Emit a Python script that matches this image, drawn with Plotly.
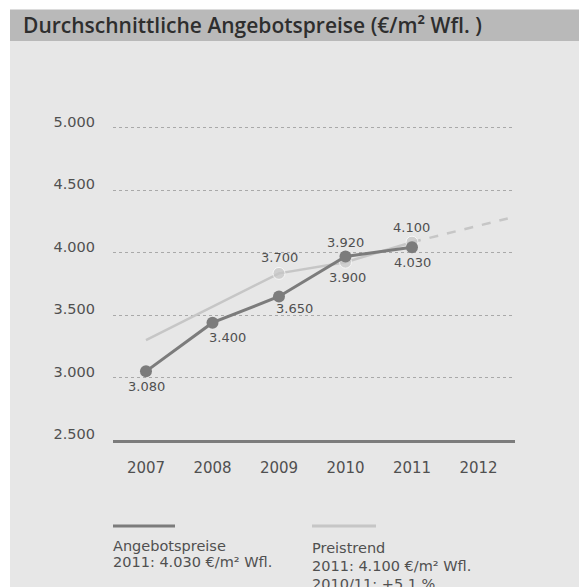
import plotly.graph_objects as go

# ---- data ----
years = [2007, 2008, 2009, 2010, 2011]
angebot_vals = [3050, 3440, 3650, 3970, 4045]
angebot_labels = ["3.080", "3.400", "3.650", "3.920", "4.030"]

trend_years = [2007, 2009, 2010, 2011]
trend_vals = [3300, 3835, 3925, 4085]
trend_labels = ["", "3.700", "3.900", "4.100"]

proj_years = [2011, 2012.44]
proj_vals = [4085, 4275]

tick_years = [2007, 2008, 2009, 2010, 2011, 2012]
ytick_vals = [2500, 3000, 3500, 4000, 4500, 5000]
ytick_text = ["2.500", "3.000", "3.500", "4.000", "4.500", "5.000"]

title_text = "Durchschnittliche Angebotspreise (€/m² Wfl. )"
legend1_lines = ["Angebotspreise", "2011: 4.030 €/m² Wfl."]
legend2_lines = ["Preistrend", "2011: 4.100 €/m² Wfl.", "2010/11: +5,1 %"]

# ---- style ----
DARK = "#7c7c7c"
LIGHT = "#c6c6c6"
TEXT = "#505050"
FONT = "DejaVu Sans"

# label offsets (px) relative to their points
angebot_shift = [(1, -15), (15, -15), (16, -12), (0, 14), (1, -15)]
trend_shift = [(0, 0), (1, 16), (2, -15), (0, 15)]

fig = go.Figure()
fig.add_trace(go.Scatter(x=proj_years, y=proj_vals, mode="lines",
                         line=dict(color=LIGHT, width=2.5, dash="dash"),
                         hoverinfo="skip", showlegend=False))
fig.add_trace(go.Scatter(x=trend_years, y=trend_vals, mode="lines+markers",
                         line=dict(color=LIGHT, width=2.5),
                         marker=dict(size=[0, 12, 12, 12], color=LIGHT),
                         name="Preistrend", showlegend=False))
fig.add_trace(go.Scatter(x=years, y=angebot_vals, mode="lines+markers",
                         line=dict(color=DARK, width=3),
                         marker=dict(size=12, color=DARK),
                         name="Angebotspreise", showlegend=False))

# page pixel -> paper coords (page has 8px body offset; plot area x 113..515, y 123..440)
PL, PR, PT, PB = 113, 515, 123, 440
def px_x(p):
    return (p - PL) / (PR - PL)

def px_y(p):
    return (PB - p) / (PB - PT)

annotations = []
for x, y, t, (dx, dy) in zip(years, angebot_vals, angebot_labels, angebot_shift):
    annotations.append(dict(x=x, y=y, text=t, showarrow=False, xshift=dx, yshift=dy,
                            font=dict(family=FONT, size=13, color=TEXT)))
for x, y, t, (dx, dy) in zip(trend_years, trend_vals, trend_labels, trend_shift):
    if t:
        annotations.append(dict(x=x, y=y, text=t, showarrow=False, xshift=dx, yshift=dy,
                                font=dict(family=FONT, size=13, color=TEXT)))

annotations.append(dict(text=title_text, xref="paper", yref="paper",
                        x=px_x(21), y=px_y(25), xanchor="left", yanchor="middle", showarrow=False,
                        font=dict(family="Open Sans", size=21, color="#2e2e2e", weight=600)))
for i, line in enumerate(legend1_lines):
    annotations.append(dict(text=line, xref="paper", yref="paper",
                            x=px_x(111), y=px_y(546 + 16 * i), xanchor="left", yanchor="middle",
                            showarrow=False, font=dict(family=FONT, size=14.5, color=TEXT)))
for i, line in enumerate(legend2_lines):
    annotations.append(dict(text=line, xref="paper", yref="paper",
                            x=px_x(310), y=px_y(548 + 18 * i), xanchor="left", yanchor="middle",
                            showarrow=False, font=dict(family=FONT, size=14.5, color=TEXT)))

shapes = [
    dict(type="rect", xref="paper", yref="paper", x0=px_x(10), x1=px_x(620),
         y0=px_y(620), y1=px_y(41), fillcolor="#e7e7e7", line=dict(width=0), layer="below"),
    dict(type="rect", xref="paper", yref="paper", x0=px_x(10), x1=px_x(620),
         y0=px_y(41), y1=px_y(9.5), fillcolor="#b9b9b9", line=dict(width=0), layer="below"),
    dict(type="line", xref="paper", yref="paper", x0=px_x(113), x1=px_x(175),
         y0=px_y(526), y1=px_y(526), line=dict(color=DARK, width=3)),
    dict(type="line", xref="paper", yref="paper", x0=px_x(312), x1=px_x(376),
         y0=px_y(526), y1=px_y(526), line=dict(color=LIGHT, width=3)),
]

W = 579
fig.update_layout(
    width=W, height=W,
    margin=dict(l=PL - 8, r=W - (PR - 8), t=PT - 8, b=W - (PB - 8)),
    paper_bgcolor="white", plot_bgcolor="rgba(0,0,0,0)",
    shapes=shapes, annotations=annotations,
    font=dict(family=FONT, size=15, color=TEXT),
    xaxis=dict(range=[2006.504, 2012.549], tickvals=tick_years, ticktext=[str(y) for y in tick_years],
               showgrid=False, zeroline=False, showline=True, linecolor=DARK, linewidth=3,
               ticks="", ticklabelstandoff=12, tickfont=dict(family=FONT, size=15, color=TEXT),
               fixedrange=True),
    yaxis=dict(range=[2500, 5040], tickvals=ytick_vals, ticktext=ytick_text,
               showgrid=True, gridcolor="#a9a9a9", gridwidth=1, griddash="dot",
               zeroline=False, showline=False, ticks="", ticklabelstandoff=17,
               ticklabelshift=-6,
               tickfont=dict(family=FONT, size=14.5, color=TEXT), fixedrange=True),
)

fig.write_html("out.html")
